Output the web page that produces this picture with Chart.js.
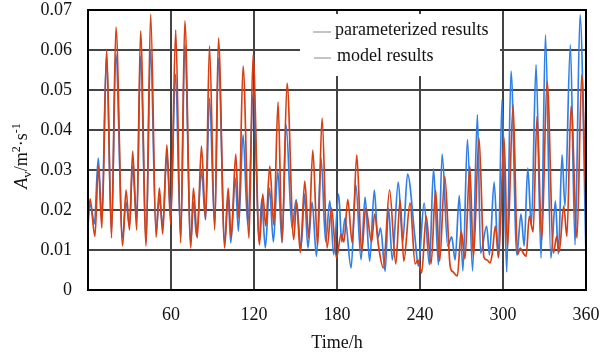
<!DOCTYPE html>
<html>
<head>
<meta charset="utf-8">
<script src="https://cdn.jsdelivr.net/npm/chart.js@4.4.1/dist/chart.umd.min.js"></script>
<style>
  html, body { margin: 0; padding: 0; background: #fff; }
  #wrap { width: 601px; height: 358px; position: relative; }
</style>
</head>
<body>
<div id="wrap"><canvas id="chart"></canvas></div>
<script>
/* ─── DATA ─── */
const seriesLabels = ['parameterized results', 'model results'];
const xTicks = [0, 60, 120, 180, 240, 300, 360];
const yTicks = [0, 0.01, 0.02, 0.03, 0.04, 0.05, 0.06, 0.07];

// parameterized results (blue): turning points, hours / value
const paramHours = [0, 2, 4.6, 7.4, 10, 13.4, 17, 20.1, 25, 27.4, 30, 32.2, 35.2, 38, 42, 45.2, 49.2, 51.5, 54, 57,
  59.8, 63.2, 67, 70, 74.3, 76.2, 78.5, 82, 85, 87.8, 91.6, 94.3, 98.8, 101.3, 103.2, 106.5, 108.7, 112.1, 115.5, 119.5,
  123.9, 125.5, 128.2, 131.2, 134, 137.2, 140.3, 143.2, 147.5, 150.5, 154, 156.5, 159, 162, 165.2, 168.5, 171.8, 174.8, 177.6,
  181.2, 183.4, 185.8, 190.2, 193.6, 197.4, 200.3, 203.6, 207, 209.5, 211.5, 214.8, 217.2, 220, 224.3, 227.5, 231, 236.4, 238.8,
  243, 246.8, 249.8, 253.3, 256, 260, 262.9, 265.4, 268.4, 271, 274.3, 278, 281.5, 283.8, 288.2, 290.2, 293.6, 296.6, 299.3,
  302.7, 305.8, 310, 313, 315.3, 317.9, 320.5, 323.9, 327.5, 330.7, 334.6, 337.9, 340, 342.7, 344.8, 348.7, 352.1, 355.7, 360];
const paramValues = [0.0215, 0.021, 0.0165, 0.033, 0.018, 0.059, 0.0145, 0.059, 0.013, 0.022, 0.016, 0.031, 0.018, 0.0585, 0.012, 0.060, 0.0145, 0.023, 0.016, 0.034,
  0.019, 0.054, 0.013, 0.0613, 0.012, 0.022, 0.0134, 0.0297, 0.0176, 0.048, 0.016, 0.058, 0.012, 0.0235, 0.0118, 0.028, 0.0147, 0.0388, 0.0163, 0.0497,
  0.012, 0.0226, 0.0105, 0.0255, 0.012, 0.0297, 0.0118, 0.0413, 0.0155, 0.0226, 0.0105, 0.024, 0.0105, 0.022, 0.0084, 0.033, 0.012, 0.0223, 0.0088,
  0.024, 0.012, 0.018, 0.0055, 0.0263, 0.0076, 0.0232, 0.0072, 0.025, 0.013, 0.0155, 0.0047, 0.0205, 0.0075, 0.027, 0.012, 0.029, 0.013, 0.006,
  0.0217, 0.0063, 0.0303, 0.0063, 0.034, 0.011, 0.0133, 0.0075, 0.0236, 0.0048, 0.0376, 0.0048, 0.0438, 0.0092, 0.016, 0.0088, 0.027, 0.008, 0.0476,
  0.0045, 0.0547, 0.0088, 0.019, 0.011, 0.0305, 0.016, 0.0563, 0.008, 0.0638, 0.008, 0.0222, 0.009, 0.0338, 0.021, 0.0613, 0.0113, 0.0688, 0.0088];

// model results (red)
const modelHours = [0, 1.5, 5, 7.5, 10, 13.5, 17, 20.2, 25, 27.5, 30, 32.3, 35.2, 38, 42, 45.3, 49.2, 51.6, 54, 57,
  59.8, 63.4, 67, 70, 74.3, 76.2, 79, 82, 85, 87.8, 91.6, 94.3, 98.8, 101.3, 103.5, 106.8, 109, 112.1, 116.4, 119.3,
  123.9, 126.3, 128.5, 131.4, 134.3, 137.4, 140.3, 143.9, 148.7, 150.7, 153.5, 156.7, 159.6, 162.5, 166, 169.2, 172.8, 176, 179.6,
  183, 185, 187.8, 191, 194.3, 197.8, 200.8, 205, 207.2, 210, 213.5, 218, 222.5, 225.6, 228.3, 232.8, 236.5, 238.5,
  241.2, 244.5, 248, 251.3, 254.2, 257.9, 261.8, 264, 267, 269.8, 272.5, 276, 278.6, 282.7, 286.2, 288.5, 290.6, 292.2, 294.5, 296.9,
  300.8, 303.2, 307.3, 310.5, 312.5, 314.2, 316.7, 319, 321.8, 324.6, 328, 331.9, 336.5, 338.8, 340.6, 343.9, 346.2, 349.2, 353.5, 356.9, 360];
const modelValues = [0.016, 0.0228, 0.0134, 0.031, 0.0155, 0.060, 0.013, 0.0657, 0.011, 0.025, 0.015, 0.0347, 0.015, 0.0648, 0.011, 0.069, 0.0132, 0.0255, 0.014, 0.0363,
  0.0163, 0.065, 0.0118, 0.0673, 0.0105, 0.0255, 0.013, 0.036, 0.0176, 0.061, 0.015, 0.063, 0.0105, 0.0255, 0.013, 0.034, 0.018, 0.056, 0.013, 0.0588,
  0.0113, 0.024, 0.016, 0.031, 0.0163, 0.047, 0.012, 0.0517, 0.0126, 0.022, 0.0093, 0.0272, 0.013, 0.035, 0.011, 0.043, 0.0105, 0.0205, 0.008,
  0.014, 0.012, 0.0226, 0.0118, 0.0338, 0.0095, 0.0205, 0.012, 0.019, 0.011, 0.0055, 0.025, 0.0065, 0.0225, 0.0072, 0.0218, 0.0065, 0.0075,
  0.0043, 0.0185, 0.0065, 0.025, 0.0072, 0.0285, 0.006, 0.0045, 0.0035, 0.0147, 0.0078, 0.031, 0.0082, 0.038, 0.0082, 0.0075, 0.0068, 0.009, 0.016, 0.0081,
  0.038, 0.0105, 0.0463, 0.0088, 0.0105, 0.0095, 0.0084, 0.0184, 0.0145, 0.0434, 0.0125, 0.0522, 0.0093, 0.0134, 0.0095, 0.021, 0.0134, 0.046, 0.013, 0.0538, 0.0205];

const BLUE = '#2f7fe6';
const RED  = '#d63f14';
const GRID = '#444';
const FONT = "'Liberation Serif', 'Times New Roman', serif";

const toPoints = (xs, ys) => xs.map((x, i) => ({ x, y: ys[i] }));

/* frame + white legend box + y title with sub/superscripts */
const decorPlugin = {
  id: 'decor',
  afterDraw(chart) {
    const { ctx, chartArea: a } = chart;
    ctx.save();
    // legend box
    ctx.fillStyle = '#fff';
    ctx.fillRect(300, 14, 200, 62);
    ctx.strokeStyle = '#8a8a8a';
    ctx.lineWidth = 1.2;
    ctx.beginPath();
    ctx.moveTo(313, 32); ctx.lineTo(331, 32);
    ctx.moveTo(314, 58); ctx.lineTo(331, 58);
    ctx.stroke();
    ctx.fillStyle = '#111';
    ctx.font = `18px ${FONT}`;
    ctx.textBaseline = 'middle';
    ctx.textAlign = 'left';
    ctx.fillText(seriesLabels[0], 335, 30);
    ctx.fillText(seriesLabels[1], 337, 56);

    // outer frame
    ctx.strokeStyle = '#000';
    ctx.lineWidth = 2;
    ctx.strokeRect(a.left, a.top, a.right - a.left, a.bottom - a.top);

    // y axis title: A_v/m^2·s^-1
    const parts = [
      { t: 'A', f: `italic 18px ${FONT}`, dy: 0 },
      { t: 'v', f: `13px ${FONT}`, dy: 4 },
      { t: '/m', f: `18px ${FONT}`, dy: 0 },
      { t: '2', f: `12px ${FONT}`, dy: -7 },
      { t: '·s', f: `18px ${FONT}`, dy: 0 },
      { t: '-1', f: `12px ${FONT}`, dy: -7 },
    ];
    let total = 0;
    parts.forEach(p => { ctx.font = p.f; p.w = ctx.measureText(p.t).width; total += p.w; });
    ctx.translate(27, 156);
    ctx.rotate(-Math.PI / 2);
    ctx.textBaseline = 'alphabetic';
    let x = -total / 2;
    parts.forEach(p => {
      ctx.font = p.f;
      ctx.fillText(p.t, x, p.dy);
      x += p.w;
    });
    ctx.restore();
  }
};

new Chart(document.getElementById('chart'), {
  type: 'line',
  data: {
    datasets: [
      {
        label: seriesLabels[1],
        data: toPoints(modelHours, modelValues),
        borderColor: RED,
        borderWidth: 1.7,
        pointRadius: 0,
        cubicInterpolationMode: 'monotone',
        order: 0,
      },
      {
        label: seriesLabels[0],
        data: toPoints(paramHours, paramValues),
        borderColor: BLUE,
        borderWidth: 1.7,
        pointRadius: 0,
        cubicInterpolationMode: 'monotone',
        order: 1,
      }
    ]
  },
  options: {
    responsive: true,
    maintainAspectRatio: false,
    animation: false,
    layout: { padding: { left: 0, right: 15, top: 10, bottom: 0 } },
    plugins: { legend: { display: false }, tooltip: { enabled: false } },
    scales: {
      x: {
        type: 'linear',
        min: xTicks[0],
        max: xTicks[xTicks.length - 1],
        afterBuildTicks: s => { s.ticks = xTicks.map(v => ({ value: v })); },
        afterFit: s => { s.height = 68; s.paddingLeft = 0; s.paddingRight = 0; },
        grid: { color: GRID, lineWidth: 2, drawTicks: false },
        border: { color: '#000', width: 2 },
        ticks: {
          color: '#111', padding: 14,
          font: { family: FONT, size: 18 },
          callback: v => (v === 0 ? '' : String(v)),
        },
        title: {
          display: true, text: 'Time/h', color: '#111',
          font: { family: FONT, size: 18 }, padding: { top: 6 },
        },
      },
      y: {
        min: yTicks[0],
        max: yTicks[yTicks.length - 1],
        afterBuildTicks: s => { s.ticks = yTicks.map(v => ({ value: v })); },
        afterFit: s => { s.width = 88; s.paddingTop = 0; s.paddingBottom = 0; },
        grid: { color: GRID, lineWidth: 2, drawTicks: false },
        border: { color: '#000', width: 2 },
        ticks: {
          color: '#111', padding: 16,
          font: { family: FONT, size: 18 },
          callback: v => (v === 0 ? '0' : v.toFixed(2)),
        },
      },
    },
  },
  plugins: [decorPlugin],
});
</script>
</body>
</html>
